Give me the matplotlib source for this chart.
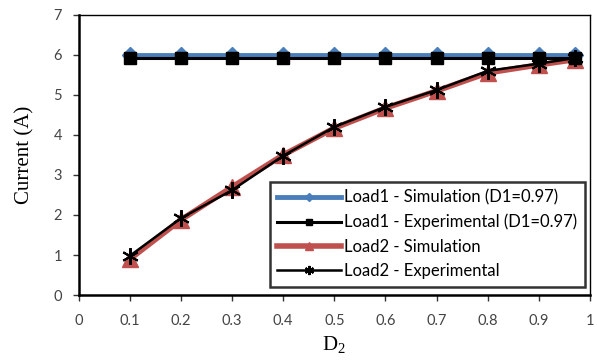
import matplotlib.pyplot as plt

plt.rcParams['mathtext.fontset'] = 'custom'
plt.rcParams['mathtext.rm'] = 'Liberation Serif'
plt.rcParams['mathtext.it'] = 'Liberation Serif'

d2 = [0.1, 0.2, 0.3, 0.4, 0.5, 0.6, 0.7, 0.8, 0.9, 0.97]
load1_sim = [6.0, 6.0, 6.0, 6.0, 6.0, 6.0, 6.0, 6.0, 6.0, 6.0]
load1_exp = [5.92, 5.92, 5.92, 5.92, 5.92, 5.92, 5.92, 5.92, 5.92, 5.92]
load2_sim = [0.9, 1.88, 2.7, 3.5, 4.17, 4.67, 5.1, 5.55, 5.75, 5.88]
load2_exp = [0.98, 1.92, 2.62, 3.48, 4.2, 4.7, 5.12, 5.6, 5.78, 5.92]

fig = plt.figure(figsize=(5.97, 3.62), dpi=100)
ax = fig.add_axes([0.132, 0.185, 0.856, 0.774])

blue = '#4a7ebb'
red = '#c0504d'

ax.plot(d2, load1_sim, color=blue, lw=3.5, marker='D', ms=8,
        label='Load1 - Simulation (D1=0.97)', zorder=3)
ax.plot(d2, load1_exp, color='black', lw=2.2, marker='s', ms=8,
        label='Load1 - Experimental (D1=0.97)', zorder=4)
ax.plot(d2, load2_sim, color=red, lw=4, marker='^', ms=11,
        label='Load2 - Simulation', zorder=3)
ax.plot(d2, load2_exp, color='black', lw=1.8, marker=(6, 2, 0), ms=12,
        mew=1.5, label='Load2 - Experimental', zorder=4)

ax.set_xlim(0, 1)
ax.set_ylim(0, 7)
ax.set_xticks([0, 0.1, 0.2, 0.3, 0.4, 0.5, 0.6, 0.7, 0.8, 0.9, 1])
ax.set_xticklabels(['0', '0.1', '0.2', '0.3', '0.4', '0.5', '0.6', '0.7',
                    '0.8', '0.9', '1'])
ax.set_yticks(range(8))
ax.tick_params(direction='out', length=4, width=1, labelsize=10.5,
               colors='#333333', labelcolor='#444444')
ax.tick_params(axis='x', pad=10)
ax.tick_params(axis='y', pad=8)
for lbl in ax.get_xticklabels() + ax.get_yticklabels():
    lbl.set_fontfamily('Lato')

for side in ['top', 'right']:
    ax.spines[side].set_linewidth(1.0)
for side in ['left', 'bottom']:
    ax.spines[side].set_linewidth(1.8)

ax.set_ylabel('Current (A)', family='Liberation Serif', fontsize=15,
              labelpad=14)
ax.set_xlabel('D$_2$', family='Liberation Serif', fontsize=15, labelpad=4)

leg = ax.legend(loc='lower right', bbox_to_anchor=(0.99, 0.03),
                prop={'family': 'Lato', 'size': 12}, frameon=True,
                fancybox=False, edgecolor='black', handlelength=3.8,
                markerscale=0.55, labelspacing=0.5, borderpad=0.45,
                handletextpad=0.2, borderaxespad=0)
leg.get_frame().set_linewidth(1.8)

fig.savefig('out.png', dpi=100)
